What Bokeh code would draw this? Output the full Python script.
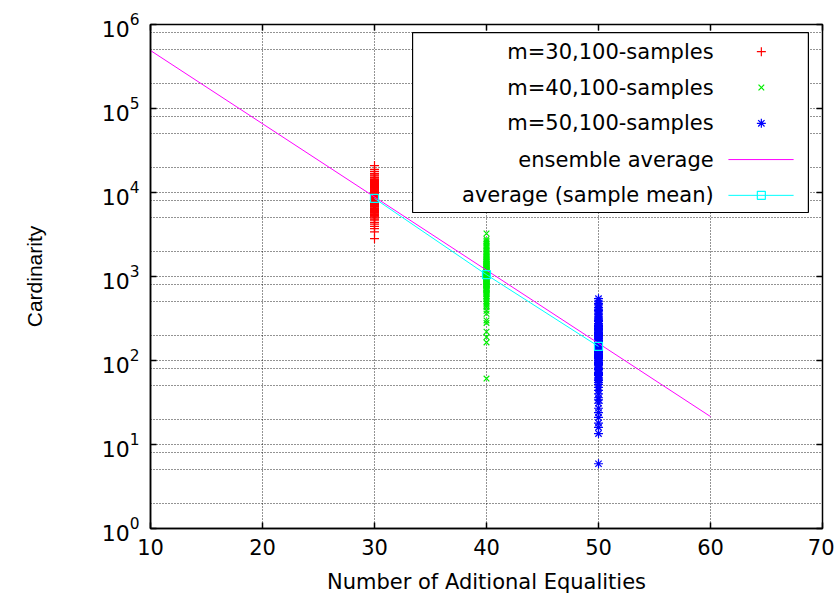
from bokeh.plotting import figure
from bokeh.models import (FixedTicker, LogAxis, LinearAxis, Range1d, LinearScale,
                          CustomJSTickFormatter)
from bokeh.core.properties import value
from bokeh.embed import file_html
from bokeh.resources import INLINE

# ---------------- data ----------------
m30_x = 30
m30_samples = [8120, 6350, 11240, 9870, 4420, 7760, 13500, 5230, 9010, 15800,
               7340, 10420, 6020, 8790, 12100, 3710, 9560, 7110, 16900, 5680,
               8430, 10980, 6790, 20900, 7950, 4980, 11760, 9230, 6540, 14300,
               8660, 5910, 10150, 7480, 2820, 12800, 9440, 6230, 8250, 17800,
               7620, 10660, 5450, 9120, 13100, 6880, 8010, 11450, 4690, 9700,
               7230, 15100, 8540, 6110, 10300, 3390, 9330, 12400, 7890, 5790,
               8910, 11000, 6450, 18900, 7050, 9980, 5120, 8370, 13900, 6690,
               10580, 4200, 9630, 7560, 12200, 8180, 5340, 11900, 7410, 9280,
               6940, 16200, 8760, 10050, 4830, 7810, 14800, 9050, 6270, 11300,
               8500, 5560, 10750, 7180, 12650, 3960, 9190, 8030, 6840, 13300]

m40_x = 40
m40_samples = [1020, 760, 1450, 540, 1210, 890, 2100, 650, 1330, 980,
               430, 1680, 810, 1120, 2650, 700, 1250, 920, 360, 1540,
               1060, 590, 1890, 840, 1380, 470, 1170, 3250, 730, 1010,
               1620, 620, 950, 2280, 780, 1290, 510, 1100, 1760, 860,
               300, 1420, 1040, 680, 2460, 910, 1190, 560, 1570, 820,
               164, 1330, 990, 740, 1950, 610, 1260, 880, 2780, 1070,
               450, 1480, 770, 1150, 2020, 690, 1360, 940, 390, 1710,
               1000, 580, 1230, 850, 2350, 720, 1090, 490, 1820, 960,
               61, 1280, 800, 1500, 640, 1130, 2200, 870, 280, 1400,
               1050, 710, 1600, 930, 220, 1180, 790, 2550, 1080, 190]

m50_x = 50
m50_samples = [150, 95, 230, 62, 180, 120, 310, 44, 205, 135,
               78, 410, 160, 27, 255, 110, 190, 68, 350, 140,
               88, 220, 52, 165, 125, 480, 36, 240, 100, 175,
               72, 290, 145, 21, 200, 115, 380, 58, 170, 130,
               92, 265, 48, 185, 105, 545, 31, 215, 155, 82,
               330, 66, 195, 118, 16, 245, 138, 75, 430, 98,
               160, 40, 275, 128, 86, 205, 13.5, 185, 112, 360,
               55, 235, 148, 70, 510, 102, 172, 24, 300, 132,
               90, 225, 60, 195, 122, 395, 34, 260, 108, 168,
               80, 320, 18, 210, 142, 5.9, 250, 115, 460, 94]

ensemble_x = [10, 60]
ensemble_y = [4.9e5, 21.5]

mean_x = [30, 40, 50]
mean_y = [8500, 1050, 147]

legend_labels = ["m=30,100-samples", "m=40,100-samples", "m=50,100-samples",
                 "ensemble average", "average (sample mean)"]

x_ticks = [10, 20, 30, 40, 50, 60, 70]
y_ticks = [1, 10, 100, 1000, 10000, 100000, 1000000]
y_grid_values = [1, 2, 5, 8, 10, 20, 50, 80, 100, 200, 500, 800, 1000, 2000, 5000, 8000,
                 10000, 20000, 50000, 80000, 100000, 200000, 500000, 800000, 1000000]

# ---------------- figure ----------------
FONT = "DejaVu Sans"
p = figure(width=834, height=599, x_range=(10, 70), y_range=(1, 1e6),
           y_axis_type="log", output_backend="svg", toolbar_location=None,
           min_border_left=150, min_border_right=12, min_border_top=24,
           min_border_bottom=71)
p.background_fill_color = "white"
p.border_fill_color = "white"
p.outline_line_color = "black"
p.outline_line_width = 1.5

# grids
p.xgrid.ticker = FixedTicker(ticks=[20, 30, 40, 50, 60])
p.ygrid.ticker = FixedTicker(ticks=y_grid_values)
for g in (p.xgrid, p.ygrid):
    g.grid_line_color = "black"
    g.grid_line_alpha = 0.85
    g.grid_line_dash = "1 2"
    g.grid_line_width = 1

# axes
xa = p.xaxis[0]
xa.ticker = FixedTicker(ticks=x_ticks, minor_ticks=[])
ya = p.yaxis[0]
ya.ticker = FixedTicker(ticks=y_ticks, minor_ticks=[])
for ax in (xa, ya):
    ax.axis_line_color = "black"
    ax.axis_line_width = 1.5
    ax.major_tick_in = 6
    ax.major_tick_out = 0
    ax.major_tick_line_color = "black"
    ax.major_tick_line_width = 1.5
    ax.minor_tick_line_color = None
    ax.major_label_text_font = FONT
    ax.major_label_text_font_size = "21px"
    ax.major_label_text_color = "black"
    ax.axis_label_text_font_style = "normal"
    ax.axis_label_text_color = "black"
    ax.axis_label_text_font_size = "21px"

ya.major_label_text_font_size = "22px"

xa.axis_label = "Number of Aditional Equalities"
xa.axis_label_text_font = FONT
xa.major_label_standoff = 10
xa.axis_label_standoff = 12

ya.axis_label = "Cardinarity"
ya.axis_label_text_font = "Liberation Sans"
ya.major_label_standoff = 11
ya.axis_label_standoff = 53

blank = CustomJSTickFormatter(code="return ''")
top = LinearAxis(ticker=FixedTicker(ticks=x_ticks, minor_ticks=[]), formatter=blank)
right = LogAxis(ticker=FixedTicker(ticks=y_ticks, minor_ticks=[]), formatter=blank)
for ax in (top, right):
    ax.axis_line_color = None
    ax.major_tick_in = 6
    ax.major_tick_out = 0
    ax.major_tick_line_color = "black"
    ax.major_tick_line_width = 1.5
    ax.minor_tick_line_color = None
    ax.major_label_standoff = 0
p.add_layout(top, "above")
p.add_layout(right, "right")

# ---------------- data glyphs ----------------
p.scatter([m30_x] * len(m30_samples), m30_samples, marker="cross", size=9,
          line_color="#ff0000", line_width=1.2)
p.scatter([m40_x] * len(m40_samples), m40_samples, marker="x", size=8,
          line_color="#00ee00", line_width=1.2)
p.scatter([m50_x] * len(m50_samples), m50_samples, marker="asterisk", size=9,
          line_color="#0000ff", line_width=1.2)
p.line(ensemble_x, ensemble_y, line_color="#ff00ff", line_width=1)
p.line(mean_x, mean_y, line_color="#00ffff", line_width=1)
p.scatter(mean_x, mean_y, marker="square", size=8, fill_color=None,
          line_color="#00ffff", line_width=1.2)

# ---------------- legend (gnuplot style: text right, sample left) ----------------
p.extra_x_ranges = {"leg": Range1d(0, 1)}
p.extra_y_ranges = {"leg": Range1d(0, 1)}
p.extra_x_scales = {"leg": LinearScale()}
p.extra_y_scales = {"leg": LinearScale()}

box_l, box_r, box_b, box_t = 0.390, 0.979, 0.627, 0.984
rows = [0.946, 0.875, 0.804, 0.732, 0.661]
text_r = 0.838
mark_x = 0.909
seg_l, seg_r = 0.860, 0.957

p.quad(left=[box_l], right=[box_r], bottom=[box_b], top=[box_t],
       fill_color="white", line_color="black", line_width=1.2,
       x_range_name="leg", y_range_name="leg")
p.text(x=[text_r] * 5, y=rows, text=legend_labels, text_align="right",
       text_baseline="middle", text_font=value(FONT), text_font_size="21px",
       text_color="black", x_range_name="leg", y_range_name="leg")
p.scatter([mark_x], [rows[0]], marker="cross", size=9, line_color="#ff0000",
          line_width=1.2, x_range_name="leg", y_range_name="leg")
p.scatter([mark_x], [rows[1]], marker="x", size=8, line_color="#00ee00",
          line_width=1.2, x_range_name="leg", y_range_name="leg")
p.scatter([mark_x], [rows[2]], marker="asterisk", size=9, line_color="#0000ff",
          line_width=1.2, x_range_name="leg", y_range_name="leg")
p.segment(x0=[seg_l], y0=[rows[3]], x1=[seg_r], y1=[rows[3]], line_color="#ff00ff",
          line_width=1, x_range_name="leg", y_range_name="leg")
p.segment(x0=[seg_l], y0=[rows[4]], x1=[seg_r], y1=[rows[4]], line_color="#00ffff",
          line_width=1, x_range_name="leg", y_range_name="leg")
p.scatter([mark_x], [rows[4]], marker="square", size=8, fill_color=None,
          line_color="#00ffff", line_width=1.2, x_range_name="leg", y_range_name="leg")

open("out.html", "w").write(file_html(p, INLINE))
